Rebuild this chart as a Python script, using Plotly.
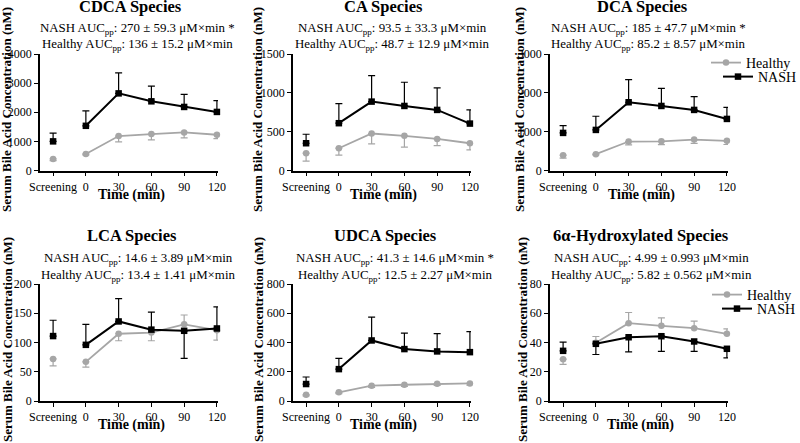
import plotly.graph_objects as go

W, H = 800, 443
FONT = "Liberation Serif, Times New Roman, serif"
GRAY = "#a6a6a6"
BLACK = "#000000"

# ---------------- data ----------------
times = [0, 30, 60, 90, 120]
screen_x = -30
x_tickvals = [-30, 0, 30, 60, 90, 120]
x_ticktext = ["Screening", "0", "30", "60", "90", "120"]

panel_titles = ["CDCA Species", "CA Species", "DCA Species",
                "LCA Species", "UDCA Species", "6α-Hydroxylated Species"]
nash_auc = ["270 ± 59.3 μM×min *", "93.5 ± 33.3 μM×min", "185 ± 47.7 μM×min *",
            "14.6 ± 3.89 μM×min", "41.3 ± 14.6 μM×min *", "4.99 ± 0.993 μM×min"]
healthy_auc = ["136 ± 15.2 μM×min", "48.7 ± 12.9 μM×min", "85.2 ± 8.57 μM×min",
               "13.4 ± 1.41 μM×min", "12.5 ± 2.27 μM×min", "5.82 ± 0.562 μM×min"]
y_max = [4000, 1500, 3000, 200, 800, 80]
y_dtick = [1000, 500, 1000, 50, 200, 20]

# CDCA
cdca_healthy_screen = 398
cdca_healthy_screen_err = 60
cdca_healthy = [568, 1182, 1250, 1307, 1227]
cdca_healthy_err = [30, 200, 200, 190, 130]
cdca_nash_screen = 1000
cdca_nash_screen_err = 284
cdca_nash = [1534, 2648, 2375, 2182, 2011]
cdca_nash_err = [511, 704, 523, 432, 387]

# CA
ca_healthy_screen = 223
ca_healthy_screen_err = 103
ca_healthy = [287, 476, 446, 407, 351]
ca_healthy_err = [90, 133, 146, 86, 85]
ca_nash_screen = 351
ca_nash_screen_err = 116
ca_nash = [609, 887, 831, 780, 604]
ca_nash_err = [252, 334, 305, 283, 176]

# DCA
dca_healthy_screen = 394
dca_healthy_screen_err = 77
dca_healthy = [420, 746, 750, 797, 763]
dca_healthy_err = [20, 86, 86, 100, 94]
dca_nash_screen = 968
dca_nash_screen_err = 189
dca_nash = [1045, 1757, 1662, 1560, 1328]
dca_nash_err = [352, 583, 455, 343, 300]

# LCA
lca_healthy_screen = 72
lca_healthy_screen_err = 12
lca_healthy = [67, 115, 117, 131, 121]
lca_healthy_err = [9, 12, 14, 16, 17]
lca_nash_screen = 111
lca_nash_screen_err = 27
lca_nash = [96, 136, 122, 120, 124]
lca_nash_err = [35, 39, 30, 47, 37]

# UDCA
udca_healthy_screen = 43
udca_healthy_screen_err = 8
udca_healthy = [59, 105, 111, 118, 120]
udca_healthy_err = [8, 12, 12, 12, 12]
udca_nash_screen = 116
udca_nash_screen_err = 48
udca_nash = [218, 414, 355, 339, 334]
udca_nash_err = [73, 159, 109, 122, 141]

# 6alpha-hydroxylated
ha_healthy_screen = 28.6
ha_healthy_screen_err = 3.6
ha_healthy = [39.8, 53.2, 51.4, 49.8, 45.9]
ha_healthy_err = [4.3, 7.3, 5.4, 4.8, 3.4]
ha_nash_screen = 34.3
ha_nash_screen_err = 6.0
ha_nash = [39.1, 43.6, 44.3, 40.7, 35.7]
ha_nash_err = [7.3, 10.0, 10.4, 6.8, 6.2]

# error bar direction (+1 above, -1 below): [screening, 0, 30, 60, 90, 120]
healthy_dirs = [
    [-1, -1, -1, -1, -1, -1],
    [-1, -1, -1, -1, -1, -1],
    [-1, -1, -1, -1, -1, -1],
    [-1, -1, -1, -1, 1, -1],
    [-1, -1, -1, -1, -1, -1],
    [-1, 1, 1, 1, 1, 1],
]
nash_dirs = [
    [1, 1, 1, 1, 1, 1],
    [1, 1, 1, 1, 1, 1],
    [1, 1, 1, 1, 1, 1],
    [1, 1, 1, 1, -1, 1],
    [1, 1, 1, 1, 1, 1],
    [1, -1, -1, -1, -1, -1],
]

panels = [
    (cdca_healthy_screen, cdca_healthy_screen_err, cdca_healthy, cdca_healthy_err,
     cdca_nash_screen, cdca_nash_screen_err, cdca_nash, cdca_nash_err),
    (ca_healthy_screen, ca_healthy_screen_err, ca_healthy, ca_healthy_err,
     ca_nash_screen, ca_nash_screen_err, ca_nash, ca_nash_err),
    (dca_healthy_screen, dca_healthy_screen_err, dca_healthy, dca_healthy_err,
     dca_nash_screen, dca_nash_screen_err, dca_nash, dca_nash_err),
    (lca_healthy_screen, lca_healthy_screen_err, lca_healthy, lca_healthy_err,
     lca_nash_screen, lca_nash_screen_err, lca_nash, lca_nash_err),
    (udca_healthy_screen, udca_healthy_screen_err, udca_healthy, udca_healthy_err,
     udca_nash_screen, udca_nash_screen_err, udca_nash, udca_nash_err),
    (ha_healthy_screen, ha_healthy_screen_err, ha_healthy, ha_healthy_err,
     ha_nash_screen, ha_nash_screen_err, ha_nash, ha_nash_err),
]

# ---------------- layout geometry (pixels) ----------------
col_left = [40, 293, 550]
plot_w = 178
row_bottom = [170.5, 401]
row_top = [54, 284]
x_range = [-42, 121]

title_pos = [(130, 7), (383, 7), (642, 7), (132, 235), (385, 235), (641, 235)]
sub_pos = [(137, 29, 45), (392, 29, 45), (648, 29, 45),
           (138, 259, 276), (395, 259, 276), (651, 259, 276)]
xtitle_pos = [(131, 195), (383, 195), (641, 195), (131, 425), (383, 425), (640, 425)]
ytitle_pos = [(7, 110), (258, 110), (520, 110), (7, 340), (258, 340), (522, 340)]


def px(x):
    return x / W


def py(y):
    return 1 - y / H


def split_err(errs, dirs):
    plus = [e if d > 0 else 0 for e, d in zip(errs, dirs)]
    minus = [e if d < 0 else 0 for e, d in zip(errs, dirs)]
    return plus, minus


fig = go.Figure()
layout = dict(
    width=W, height=H,
    margin=dict(l=0, r=0, t=0, b=0, autoexpand=False),
    paper_bgcolor="white", plot_bgcolor="white",
    font=dict(family=FONT, size=11, color="black"),
    showlegend=True,
)
annotations = []

legend_map = {2: ("legend", "legend2"), 5: ("legend3", "legend4")}
MS = 6.5

for i, p in enumerate(panels):
    hs, hse, h, he, ns, nse, n, ne = p
    r, c = divmod(i, 3)
    xa = "x" if i == 0 else f"x{i+1}"
    ya = "y" if i == 0 else f"y{i+1}"
    hd = healthy_dirs[i]
    nd = nash_dirs[i]

    hp_s, hm_s = split_err([hse], [hd[0]])
    hp, hm = split_err(he, hd[1:])
    np_s, nm_s = split_err([nse], [nd[0]])
    npl, nmi = split_err(ne, nd[1:])

    leg = legend_map.get(i)

    fig.add_trace(go.Scatter(
        x=[screen_x], y=[hs], mode="markers", xaxis=xa, yaxis=ya,
        marker=dict(symbol="circle", size=MS, color=GRAY),
        error_y=dict(type="data", symmetric=False, array=hp_s, arrayminus=hm_s,
                     color=GRAY, thickness=1.2, width=3.5),
        showlegend=False, cliponaxis=False))
    fig.add_trace(go.Scatter(
        x=times, y=h, mode="lines+markers", xaxis=xa, yaxis=ya,
        name="Healthy",
        line=dict(color=GRAY, width=1.8),
        marker=dict(symbol="circle", size=MS, color=GRAY),
        error_y=dict(type="data", symmetric=False, array=hp, arrayminus=hm,
                     color=GRAY, thickness=1.2, width=3.5),
        showlegend=leg is not None, legend=leg[0] if leg else None,
        cliponaxis=False))
    fig.add_trace(go.Scatter(
        x=[screen_x], y=[ns], mode="markers", xaxis=xa, yaxis=ya,
        marker=dict(symbol="square", size=MS, color=BLACK),
        error_y=dict(type="data", symmetric=False, array=np_s, arrayminus=nm_s,
                     color=BLACK, thickness=1.2, width=3.5),
        showlegend=False, cliponaxis=False))
    fig.add_trace(go.Scatter(
        x=times, y=n, mode="lines+markers", xaxis=xa, yaxis=ya,
        name="NASH",
        line=dict(color=BLACK, width=2),
        marker=dict(symbol="square", size=MS, color=BLACK),
        error_y=dict(type="data", symmetric=False, array=npl, arrayminus=nmi,
                     color=BLACK, thickness=1.2, width=3.5),
        showlegend=leg is not None, legend=leg[1] if leg else None,
        cliponaxis=False))

    x0 = col_left[c]
    layout["xaxis" if i == 0 else f"xaxis{i+1}"] = dict(
        domain=[px(x0), px(x0 + plot_w)], anchor=ya, range=x_range,
        tickvals=x_tickvals, ticktext=x_ticktext,
        showline=True, linecolor="black", linewidth=1.5,
        ticks="outside", ticklen=4, tickwidth=1.2, tickcolor="black",
        showgrid=False, zeroline=False, fixedrange=True,
        tickfont=dict(family=FONT, size=12, color="black"))
    layout["yaxis" if i == 0 else f"yaxis{i+1}"] = dict(
        domain=[py(row_bottom[r]), py(row_top[r])], anchor=xa,
        range=[0, y_max[i]], dtick=y_dtick[i], tick0=0,
        showline=True, linecolor="black", linewidth=1.5,
        ticks="outside", ticklen=4, tickwidth=1.2, tickcolor="black",
        showgrid=False, zeroline=False, fixedrange=True,
        tickfont=dict(family=FONT, size=12, color="black"))

    tx, ty = title_pos[i]
    annotations.append(dict(
        text=f"<b>{panel_titles[i]}</b>", x=px(tx), y=py(ty), xref="paper", yref="paper",
        xanchor="center", yanchor="middle", showarrow=False,
        font=dict(family=FONT, size=16.5, color="black")))
    sx, sy1, sy2 = sub_pos[i]
    annotations.append(dict(
        text=f"NASH AUC<sub>pp</sub>: {nash_auc[i]}", x=px(sx), y=py(sy1),
        xref="paper", yref="paper", xanchor="center", yanchor="middle", showarrow=False,
        font=dict(family=FONT, size=12.9, color="black")))
    annotations.append(dict(
        text=f"Healthy AUC<sub>pp</sub>: {healthy_auc[i]}", x=px(sx), y=py(sy2),
        xref="paper", yref="paper", xanchor="center", yanchor="middle", showarrow=False,
        font=dict(family=FONT, size=12.9, color="black")))
    xx, xy = xtitle_pos[i]
    annotations.append(dict(
        text="<b>Time (min)</b>", x=px(xx), y=py(xy), xref="paper", yref="paper",
        xanchor="center", yanchor="middle", showarrow=False,
        font=dict(family=FONT, size=14, color="black")))
    yx, yy = ytitle_pos[i]
    annotations.append(dict(
        text="<b>Serum Bile Acid Concentration (nM)</b>", x=px(yx), y=py(yy),
        xref="paper", yref="paper", xanchor="center", yanchor="middle",
        textangle=-90, showarrow=False,
        font=dict(family=FONT, size=13, color="black")))

legend_common = dict(xanchor="left", yanchor="middle", bgcolor="rgba(0,0,0,0)",
                     borderwidth=0, font=dict(family=FONT, size=14, color="black"),
                     itemwidth=30, tracegroupgap=0)
layout["legend"] = dict(x=px(706), y=py(63), **legend_common)
layout["legend2"] = dict(x=px(718), y=py(77), **legend_common)
layout["legend3"] = dict(x=px(707), y=py(295), **legend_common)
layout["legend4"] = dict(x=px(717), y=py(309), **legend_common)
layout["annotations"] = annotations

fig.update_layout(**layout)
fig.write_html("out.html",
               config={"displayModeBar": False, "staticPlot": False},
               post_script="document.body.style.margin='0';document.body.style.overflow='hidden';")
